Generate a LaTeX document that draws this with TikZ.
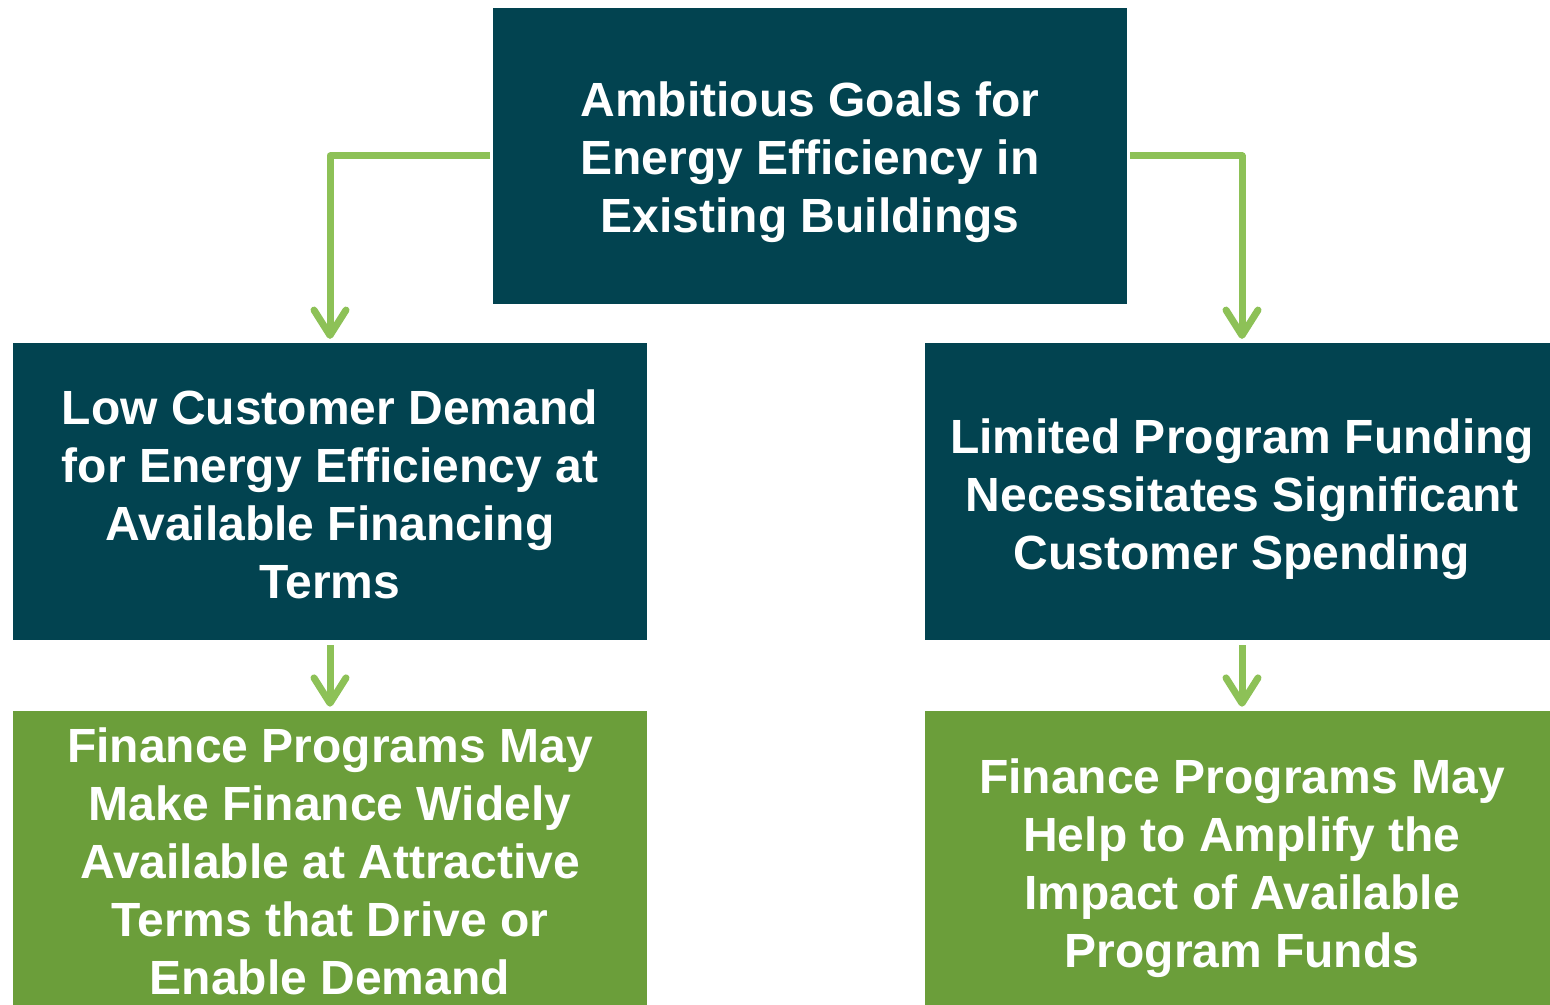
\documentclass[tikz,border=0pt]{standalone}
\usepackage{fontspec}
\setmainfont{Liberation Sans}
\usetikzlibrary{arrows.meta}

\definecolor{tealbox}{RGB}{2,67,80}
\definecolor{greenbox}{RGB}{107,158,58}
\definecolor{arrowgreen}{RGB}{141,193,87}
\newcommand{\lowstrut}[1]{\rule{0pt}{#1}}

\begin{document}
\begin{tikzpicture}[x=0.75pt,y=-0.75pt,
        box/.style={minimum width=475.5pt,inner sep=0pt,align=center,text=white,
            font=\fontsize{36}{43.5}\selectfont\bfseries},
        darkbox/.style={box,fill=tealbox,minimum height=222.5pt},
        lightbox/.style={box,fill=greenbox,minimum height=225.75pt},
        link/.style={draw=arrowgreen,line width=5.25pt,line join=round,
            -{Straight Barb[length=19pt,width=24pt,line cap=round,line join=round]}}]
            \useasboundingbox (0,0) rectangle (1550,1005);
            \node[darkbox] (goal) at (810,156) {\lowstrut{35pt}Ambitious Goals for\\Energy Efficiency in\\Existing Buildings};
            \node[darkbox] (demand) at (330,491.5) {\lowstrut{30.5pt}Low Customer Demand\\for Energy Efficiency at\\Available Financing\\Terms};
            \node[darkbox] (funding) at (1242,491.5) {\lowstrut{38pt}Limited Program Funding\\Necessitates Significant\\Customer Spending};
            \node[lightbox] (financeL) at (330,861.5) {Finance Programs May\\Make Finance Widely\\Available at Attractive\\Terms that Drive or\\Enable Demand};
            \node[lightbox] (financeR) at (1242,861.5) {\lowstrut{36.5pt}Finance Programs May\\Help to Amplify the\\Impact of Available\\Program Funds};
            \draw[link,shorten <=2.25pt,shorten >=3pt] (goal.west) -| (demand.north);
            \draw[link,shorten <=2.25pt,shorten >=3pt] (goal.east) -| (funding.north);
            \draw[link,shorten <=3.75pt,shorten >=3pt] (demand.south) -- (financeL.north);
            \draw[link,shorten <=3.75pt,shorten >=3pt] (funding.south) -- (financeR.north);
        \end{tikzpicture}
\end{document}
